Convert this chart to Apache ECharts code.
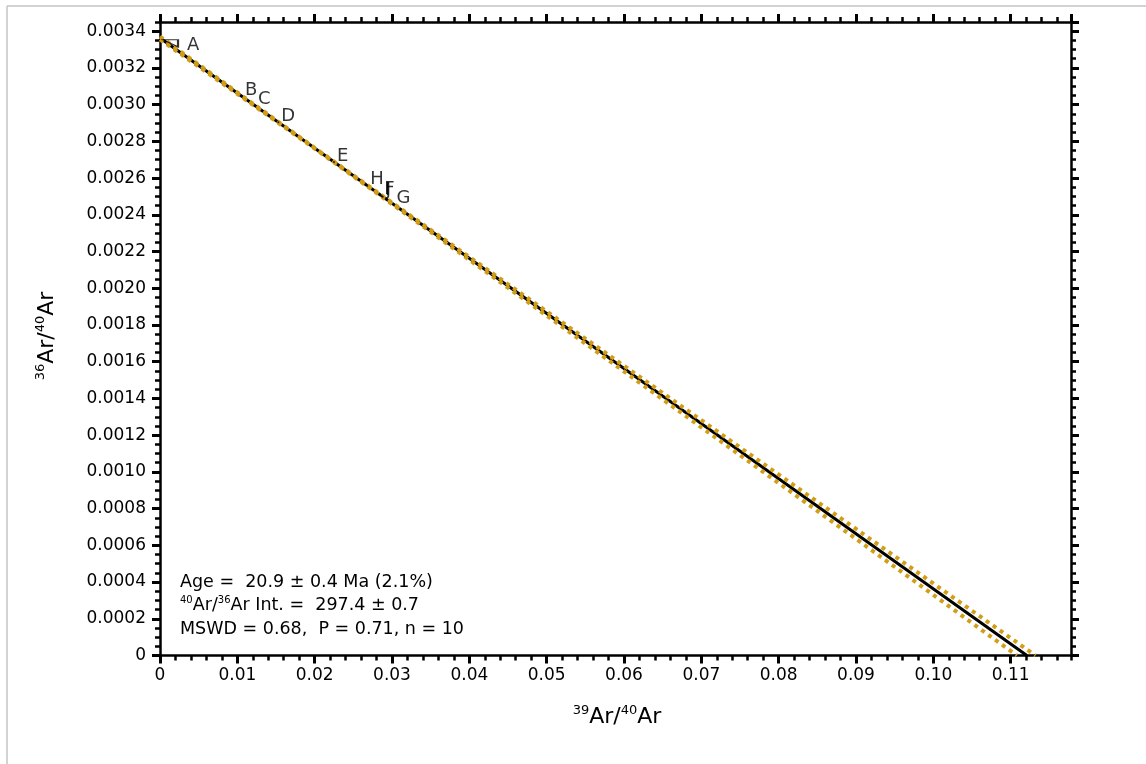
<!DOCTYPE html>
<html>
<head>
<meta charset="utf-8">
<script src="https://cdn.jsdelivr.net/npm/echarts@6/dist/echarts.min.js"></script>
<style>
  html, body { margin: 0; padding: 0; background: #fff; }
  #chart { width: 1146px; height: 764px; }
</style>
</head>
<body>
<div id="chart"></div>
<script>
// Inverse isochron: 36Ar/40Ar against 39Ar/40Ar for the heating steps.
const stepLabels = ['A', 'B', 'C', 'D', 'E', 'F', 'G', 'H', 'I', 'J'];
const stepX = [0.00136, 0.0106, 0.0123, 0.0153, 0.0225, 0.0286, 0.0302, 0.0268, 0.0287, 0.0288];
const stepY = [0.003334, 0.0030445, 0.0029935, 0.0029034, 0.0026874, 0.0025044, 0.0024564, 0.0025584, 0.0025014, 0.0024984];

// Best-fit isochron (intercepts on both axes)
const isoX = [0, 0.1121];
const isoY = [0.0033625, 0];

// 95% confidence envelope of the fit
const upperX = [0, 0.01, 0.02, 0.03, 0.05, 0.07, 0.09, 0.1132];
const upperY = [0.0033702, 0.0030665, 0.0027644, 0.0024664, 0.0018739, 0.0012815, 0.0006892, 0];
const lowerX = [0, 0.01, 0.02, 0.03, 0.05, 0.07, 0.09, 0.1108];
const lowerY = [0.0033548, 0.0030585, 0.0027604, 0.0024584, 0.0018507, 0.0012429, 0.0006352, 0];

// Axis ranges and tick spacing
const xRange = [0, 0.1178];
const yRange = [0, 0.00345];
const xMajor = 0.01, xMinor = 0.002;
const yMajor = 0.0002, yMinor = 0.00005;

// Result summary
const ageText = 'Age =  20.9 ± 0.4 Ma (2.1%)';
const interceptText = 'Ar Int. =  297.4 ± 0.7';
const statsText = 'MSWD = 0.68,  P = 0.71, n = 10';

const FONT = 'DejaVu Sans';
const INK = '#000';
const ENVELOPE = '#D29E16';

function axis(kind, position, range, interval, tickLen, tickWidth, withLine, withLabels) {
  const isX = kind === 'x';
  return {
    type: 'value',
    position: position,
    min: range[0],
    max: range[1],
    interval: interval,
    gridIndex: 0,
    axisLine: { show: withLine, onZero: false, lineStyle: { color: INK, width: 2.5 } },
    axisTick: { show: true, inside: false, length: tickLen, lineStyle: { color: INK, width: tickWidth } },
    splitLine: { show: false },
    axisLabel: withLabels ? {
      show: true,
      showMaxLabel: false,
      color: INK,
      fontFamily: FONT,
      fontSize: 17,
      margin: isX ? 12 : 14,
      formatter: function (v) {
        if (v === 0) return '0';
        return isX ? v.toFixed(2) : v.toFixed(4);
      }
    } : { show: false }
  };
}

const chart = echarts.init(document.getElementById('chart'), null, { renderer: 'canvas' });

const stepData = stepLabels.map(function (name, i) {
  const item = { name: name, value: [stepX[i], stepY[i]] };
  if (i === 0) {
    item.symbol = 'path://M0,0L15,0L15,7Z';
    item.symbolSize = [15, 7];
    item.itemStyle = { color: 'rgba(0,0,0,0)', borderColor: INK, borderWidth: 1.5 };
    item.label = { position: [25, 15] };
  }
  return item;
});

const option = {
  animation: false,
  backgroundColor: '#fff',
  grid: { left: 160, right: 75, top: 22, bottom: 108.5, containLabel: false },
  xAxis: [
    axis('x', 'bottom', xRange, xMajor, 8, 3, true, true),
    axis('x', 'bottom', xRange, xMinor, 5, 2.5, false, false),
    axis('x', 'top', xRange, xMajor, 8, 3, true, false),
    axis('x', 'top', xRange, xMinor, 5, 2.5, false, false)
  ],
  yAxis: [
    axis('y', 'left', yRange, yMajor, 8, 3, true, true),
    axis('y', 'left', yRange, yMinor, 5, 2.5, false, false),
    axis('y', 'right', yRange, yMajor, 8, 3, true, false),
    axis('y', 'right', yRange, yMinor, 5, 2.5, false, false)
  ],
  series: [
    {
      name: 'isochron',
      type: 'line',
      xAxisIndex: 0, yAxisIndex: 0,
      data: isoX.map(function (x, i) { return [x, isoY[i]]; }),
      symbol: 'none',
      lineStyle: { color: INK, width: 3 },
      z: 2
    },
    {
      name: 'envelope upper',
      type: 'line',
      xAxisIndex: 0, yAxisIndex: 0,
      data: upperX.map(function (x, i) { return [x, upperY[i]]; }),
      symbol: 'none',
      lineStyle: { color: ENVELOPE, width: 4, type: [4, 4.5], cap: 'butt' },
      z: 3
    },
    {
      name: 'envelope lower',
      type: 'line',
      xAxisIndex: 0, yAxisIndex: 0,
      data: lowerX.map(function (x, i) { return [x, lowerY[i]]; }),
      symbol: 'none',
      lineStyle: { color: ENVELOPE, width: 4, type: [4, 4.5], cap: 'butt' },
      z: 3
    },
    {
      name: 'steps',
      type: 'scatter',
      xAxisIndex: 0, yAxisIndex: 0,
      data: stepData,
      symbol: 'circle',
      symbolSize: 2,
      itemStyle: { color: INK },
      label: {
        show: true,
        formatter: '{b}',
        position: [4, 4],
        align: 'left',
        verticalAlign: 'bottom',
        color: INK,
        textBorderWidth: 0,
        fontFamily: FONT,
        fontSize: 18,
        lineHeight: 18
      },
      z: 4
    }
  ],
  graphic: [
    // outer frame
    { type: 'line', shape: { x1: 7, y1: 6, x2: 7, y2: 764 }, style: { stroke: '#c4c4c4', lineWidth: 1.5 }, silent: true },
    { type: 'line', shape: { x1: 7, y1: 6, x2: 1146, y2: 6 }, style: { stroke: '#c4c4c4', lineWidth: 1.5 }, silent: true },
    // result summary
    {
      type: 'text', x: 180, y: 582.5, z: 10,
      style: { text: ageText, fill: INK, fontFamily: FONT, fontSize: 17.5, align: 'left', verticalAlign: 'middle' }
    },
    {
      type: 'text', x: 180, y: 605.5, z: 10,
      style: {
        text: '{s|40}{m|Ar/}{s|36}{m|' + interceptText + '}',
        align: 'left', verticalAlign: 'middle',
        rich: {
          m: { fill: INK, fontFamily: FONT, fontSize: 17.5, lineHeight: 20 },
          s: { fill: INK, fontFamily: FONT, fontSize: 10, lineHeight: 8, verticalAlign: 'top' }
        }
      }
    },
    {
      type: 'text', x: 180, y: 629, z: 10,
      style: { text: statsText, fill: INK, fontFamily: FONT, fontSize: 17.5, align: 'left', verticalAlign: 'middle' }
    },
    // axis titles
    {
      type: 'text', x: 617, y: 717, z: 10,
      style: {
        text: '{s|39}{m|Ar/}{s|40}{m|Ar}',
        align: 'center', verticalAlign: 'middle',
        rich: {
          m: { fill: INK, fontFamily: FONT, fontSize: 22, lineHeight: 26 },
          s: { fill: INK, fontFamily: FONT, fontSize: 13, lineHeight: 10, verticalAlign: 'top' }
        }
      }
    },
    {
      type: 'text', x: 47, y: 336, rotation: Math.PI / 2, z: 10,
      style: {
        text: '{s|36}{m|Ar/}{s|40}{m|Ar}',
        align: 'center', verticalAlign: 'middle',
        rich: {
          m: { fill: INK, fontFamily: FONT, fontSize: 22, lineHeight: 26 },
          s: { fill: INK, fontFamily: FONT, fontSize: 13, lineHeight: 10, verticalAlign: 'top' }
        }
      }
    }
  ]
};

chart.setOption(option);
</script>
</body>
</html>
